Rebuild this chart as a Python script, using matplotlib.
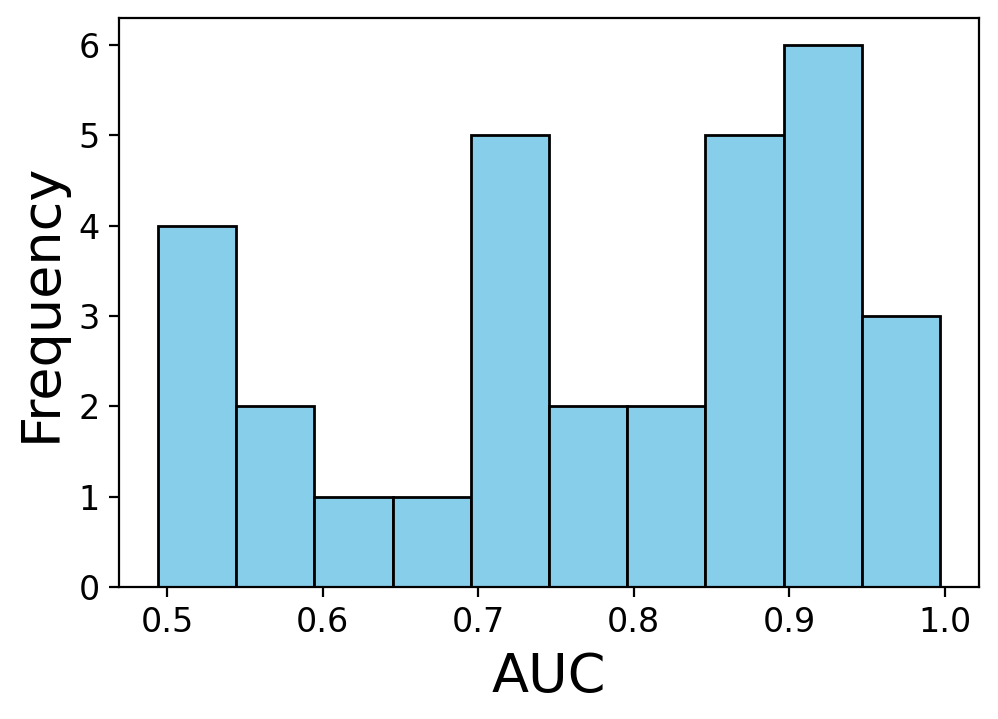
import matplotlib
matplotlib.use("Agg")
import matplotlib.pyplot as plt
import numpy as np

# histogram bins (AUC) and counts
bin_start = 0.4942
bin_stop = 0.9968
counts = [4, 2, 1, 1, 5, 2, 2, 5, 6, 3]

edges = np.linspace(bin_start, bin_stop, len(counts) + 1)
centers = (edges[:-1] + edges[1:]) / 2

fig = plt.figure(figsize=(4.99, 3.595), dpi=200)
ax = fig.add_axes([119 / 998, 1 - 587 / 719, (979 - 119) / 998, (587 - 18) / 719])
ax.hist(centers, bins=edges, weights=counts, color="skyblue", edgecolor="black", linewidth=1)
ax.set_xlabel("AUC", fontsize=19.5)
ax.set_ylabel("Frequency", fontsize=19.5)
ax.tick_params(labelsize=12)

fig.savefig("out.png", dpi=200)
